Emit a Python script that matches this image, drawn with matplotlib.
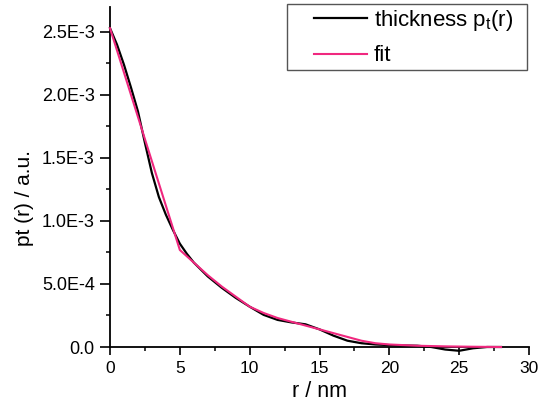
import matplotlib
matplotlib.use("Agg")
import numpy as np
import matplotlib.pyplot as plt
from matplotlib.ticker import FixedLocator, MultipleLocator

plt.rcParams['font.family'] = ['Liberation Sans', 'DejaVu Sans']
plt.rcParams['mathtext.fontset'] = 'custom'
plt.rcParams['mathtext.rm'] = 'Liberation Sans'
plt.rcParams['mathtext.it'] = 'Liberation Sans'

# thickness profile (black)
r_thick = [0, 0.5, 1, 1.5, 2, 2.5, 3, 3.5, 4, 4.5, 5, 5.5, 6, 7, 8, 9, 10, 11, 12,
           13, 14, 15, 16, 17, 18, 19, 20, 21, 22, 23, 24, 25, 26, 27, 28]
p_thick = [2.53e-3, 2.40e-3, 2.24e-3, 2.06e-3, 1.87e-3, 1.62e-3, 1.38e-3, 1.19e-3,
           1.05e-3, 0.93e-3, 0.82e-3, 0.74e-3, 0.67e-3, 0.56e-3, 0.47e-3, 0.39e-3,
           0.32e-3, 0.255e-3, 0.215e-3, 0.195e-3, 0.18e-3, 0.14e-3, 0.09e-3, 0.05e-3,
           0.03e-3, 0.02e-3, 0.015e-3, 0.012e-3, 0.01e-3, 0.0, -0.02e-3, -0.03e-3,
           -0.01e-3, 0.0, 0.0]

# fit (pink)
r_fit = [0, 5, 6, 7, 8, 9, 10, 11, 12, 13, 14, 15, 16, 17, 18, 19, 20, 22, 24, 26, 28]
p_fit = [2.53e-3, 0.77e-3, 0.67e-3, 0.57e-3, 0.48e-3, 0.40e-3, 0.32e-3, 0.27e-3,
         0.23e-3, 0.20e-3, 0.17e-3, 0.14e-3, 0.11e-3, 0.08e-3, 0.05e-3, 0.03e-3,
         0.02e-3, 0.01e-3, 0.005e-3, 0.002e-3, 0.0]

yticks = [0.0, 5.0e-4, 1.0e-3, 1.5e-3, 2.0e-3, 2.5e-3]
ytick_labels = ['0.0', '5.0E-4', '1.0E-3', '1.5E-3', '2.0E-3', '2.5E-3']
xticks = [0, 5, 10, 15, 20, 25, 30]

W, H = 539, 405
fig = plt.figure(figsize=(W / 100, H / 100), dpi=100)
ax = fig.add_axes([110 / W, 1 - 347 / H, (529 - 110) / W, (347 - 7) / H])

ax.plot(r_thick, p_thick, color='black', lw=1.6, label=r'thickness p$_{\mathrm{t}}$(r)',
        clip_on=False, zorder=3)
ax.plot(r_fit, p_fit, color='#f0287f', lw=1.5, label='fit', clip_on=False, zorder=4)

ax.set_xlim(0, 30)
ax.set_ylim(0, 2.698e-3)
ax.xaxis.set_major_locator(FixedLocator(xticks))
ax.xaxis.set_minor_locator(MultipleLocator(2.5))
ax.yaxis.set_major_locator(FixedLocator(yticks))
ax.set_yticklabels(ytick_labels)
ax.yaxis.set_minor_locator(MultipleLocator(2.5e-4))

for s in ['top', 'right']:
    ax.spines[s].set_visible(False)
for s in ['left', 'bottom']:
    ax.spines[s].set_linewidth(1.3)

ax.tick_params(axis='x', which='major', direction='out', length=6, width=1.2, labelsize=12.5, pad=4)
ax.tick_params(axis='x', which='minor', direction='out', length=3, width=1.1)
ax.tick_params(axis='y', which='major', direction='out', length=7.5, width=1.2, labelsize=13, pad=3.5)
ax.tick_params(axis='y', which='minor', direction='out', length=3.2, width=1.1)

ax.set_xlabel('r / nm', fontsize=15.5)
ax.xaxis.set_label_coords(0.5, (347 - 381) / 340)
ax.set_ylabel('pt (r) / a.u.', fontsize=15)
ax.yaxis.set_label_coords((34 - 110) / 419, (347 - 198) / 340)

leg = ax.legend(loc='upper left', bbox_to_anchor=(287 / W, 1 - 70 / H, 240 / W, 66 / H),
                bbox_transform=fig.transFigure, mode='expand',
                borderaxespad=0, fontsize=16, handlelength=3.4, handletextpad=0.32,
                labelspacing=0.56, fancybox=False, framealpha=1, edgecolor='#555555',
                borderpad=0.18)
leg.get_frame().set_linewidth(1.0)
# the legend lines start a little to the right inside their handle boxes
for ln in leg.get_lines():
    xd = np.asarray(ln.get_xdata(), dtype=float)
    ln.set_xdata(np.linspace(xd[0] + 0.31 * (xd[-1] - xd[0]), xd[-1], len(xd)))

fig.savefig('out.png', dpi=100)
